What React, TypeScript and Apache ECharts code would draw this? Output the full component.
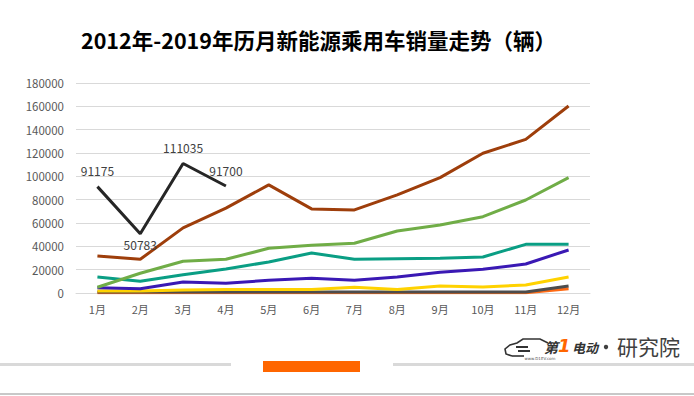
import React, { useEffect, useRef } from "react";
import * as echarts from "echarts";

const months = ["1月", "2月", "3月", "4月", "5月", "6月", "7月", "8月", "9月", "10月", "11月", "12月"];
const yTicks = { min: 0, max: 180000, interval: 20000 };

const s2012 = [200, 200, 200, 200, 200, 200, 200, 200, 200, 200, 300, 3700];
const s2013 = [800, 800, 800, 800, 800, 800, 800, 800, 800, 800, 900, 6000];
const s2014 = [1700, 1700, 2600, 3100, 3100, 3100, 4900, 3100, 6000, 5100, 6900, 13700];
const s2015 = [4600, 3700, 9400, 8300, 10900, 12600, 10900, 13700, 17700, 20300, 24900, 36900];
const s2016 = [13700, 10000, 15700, 20600, 26600, 34300, 28900, 29400, 29700, 30900, 41700, 41700];
const s2017 = [4900, 16900, 27200, 28900, 38300, 40900, 42600, 53100, 58300, 65400, 79700, 98900];
const s2018 = [31700, 28900, 55800, 72800, 92700, 72100, 71200, 84100, 98900, 119800, 131700, 160300];
const s2019 = [91175, 50783, 111035, 91700];

const titleText = "2012年-2019年历月新能源乘用车销量走势（辆）";

const seriesDefs = [
  { name: "2012", data: s2012, color: "#ff6a13" },
  { name: "2013", data: s2013, color: "#4d4d4d" },
  { name: "2014", data: s2014, color: "#ffd200" },
  { name: "2015", data: s2015, color: "#3a19b4" },
  { name: "2016", data: s2016, color: "#0a9e84" },
  { name: "2017", data: s2017, color: "#70ad47" },
  { name: "2018", data: s2018, color: "#9e3e0b" },
];

export default function App() {
  const ref = useRef<HTMLDivElement>(null);
  useEffect(() => {
    document.body.style.margin = "0";
    if (!ref.current) return;
    const chart = echarts.init(ref.current, null, { renderer: "svg" });
    const font = "'Noto Sans CJK SC', 'Noto Sans', sans-serif";
    const series: any[] = seriesDefs.map((s) => ({
      name: s.name,
      type: "line",
      data: s.data,
      symbol: "none",
      lineStyle: { color: s.color, width: 3 },
      itemStyle: { color: s.color },
      z: 2,
    }));
    series.push({
      name: "2019",
      type: "line",
      data: s2019.map((v, i) =>
        i === 1
          ? { value: v, label: { position: "bottom", distance: 5 } }
          : { value: v }
      ),
      symbol: "circle",
      symbolSize: 0,
      showSymbol: true,
      lineStyle: { color: "#262626", width: 3 },
      itemStyle: { color: "#262626" },
      label: {
        show: true,
        position: "top",
        distance: 10,
        color: "#404040",
        fontSize: 12,
        fontFamily: font,
      },
      z: 3,
    });
    chart.setOption({
      animation: false,
      backgroundColor: "#ffffff",
      title: {
        text: titleText,
        left: 76,
        top: 24,
        textStyle: { fontSize: 21.5, fontWeight: "bold", color: "#000000", fontFamily: font },
      },
      grid: { left: 76, width: 514, top: 83, height: 210, containLabel: false },
      xAxis: {
        type: "category",
        data: months,
        boundaryGap: true,
        axisLine: { show: true, lineStyle: { color: "#d9d9d9", width: 1 } },
        axisTick: { show: false },
        axisLabel: { color: "#595959", fontSize: 11, margin: 10, fontFamily: font },
      },
      yAxis: {
        type: "value",
        min: yTicks.min,
        max: yTicks.max,
        interval: yTicks.interval,
        axisLine: { show: false },
        axisTick: { show: false },
        axisLabel: {
          color: "#595959",
          fontSize: 11.5,
          margin: 12,
          fontFamily: font,
          formatter: (v: number) => String(v),
        },
        splitLine: { lineStyle: { color: "#d9d9d9", width: 1 } },
      },
      series,
      graphic: [
        { type: "rect", shape: { x: 0, y: 363, width: 231, height: 3 }, style: { fill: "#d9d9d9" } },
        { type: "rect", shape: { x: 393, y: 363, width: 301, height: 3 }, style: { fill: "#d9d9d9" } },
        { type: "rect", shape: { x: 263, y: 361, width: 97, height: 11 }, style: { fill: "#ff6600" } },
        { type: "rect", shape: { x: 0, y: 393, width: 694, height: 2 }, style: { fill: "#c8c8c8" } },
        {
          type: "polyline",
          shape: {
            points: [
              [512, 356], [506, 354], [505, 349], [510, 345], [517, 343], [523, 339],
              [540, 339], [548, 343],
            ],
          },
          style: { stroke: "#333333", lineWidth: 1.6, fill: null },
        },
        {
          type: "polyline",
          shape: { points: [[512, 356], [524, 356]] },
          style: { stroke: "#333333", lineWidth: 1.6, fill: null },
        },
        {
          type: "polyline",
          shape: { points: [[516, 347], [528, 347]] },
          style: { stroke: "#333333", lineWidth: 2, fill: null },
        },
        {
          type: "polyline",
          shape: { points: [[518, 351], [530, 351]] },
          style: { stroke: "#333333", lineWidth: 2, fill: null },
        },
        {
          type: "text",
          x: 544,
          y: 347,
          style: { text: "第", fill: "#333333", fontSize: 14, fontWeight: "bold", fontStyle: "italic", fontFamily: font, textVerticalAlign: "middle" },
        },
        {
          type: "text",
          x: 558,
          y: 345,
          style: { text: "1", fill: "#ff6600", fontSize: 18, fontWeight: "bold", fontStyle: "italic", fontFamily: "'DejaVu Sans', sans-serif", textVerticalAlign: "middle" },
        },
        {
          type: "text",
          x: 572,
          y: 347,
          style: { text: "电动", fill: "#333333", fontSize: 13, fontWeight: "bold", fontStyle: "italic", fontFamily: font, textVerticalAlign: "middle" },
        },
        {
          type: "text",
          x: 540,
          y: 358,
          style: { text: "www.D1EV.com", fill: "#555555", fontSize: 4, fontFamily: "'DejaVu Sans', sans-serif", textAlign: "center", textVerticalAlign: "middle" },
        },
        {
          type: "circle",
          shape: { cx: 606, cy: 347, r: 2.2 },
          style: { fill: "#404040" },
        },
        {
          type: "text",
          x: 617,
          y: 346,
          style: { text: "研究院", fill: "#404040", fontSize: 21, fontWeight: "normal", fontFamily: font, textVerticalAlign: "middle" },
        },
      ],
    });
    return () => chart.dispose();
  }, []);
  return <div ref={ref} style={{ width: 694, height: 396 }} />;
}
